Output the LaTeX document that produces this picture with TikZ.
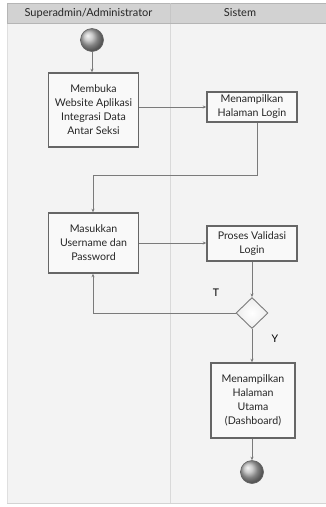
\documentclass[tikz,border=0pt]{standalone}
\usepackage{fontspec}
\setmainfont{Lato}
\usetikzlibrary{shapes.geometric,arrows.meta,shadows}
\definecolor{lane}{HTML}{F3F3F3}
\definecolor{headfill}{HTML}{D2D2D2}
\definecolor{headline}{HTML}{B5B5B5}
\definecolor{wire}{HTML}{7A7A7A}
\definecolor{boxline}{HTML}{666666}
\definecolor{boxfill}{HTML}{F9F9F9}
\tikzset{
  actbox/.style={draw=boxline, line width=1.4pt, fill=boxfill, align=center,
    font=\fontsize{10.6}{14}\selectfont, inner sep=1pt, text=black!85,
    drop shadow={shadow xshift=0.6pt, shadow yshift=-0.6pt, opacity=0.25}},
  decide/.style={diamond, draw=wire, line width=0.9pt, inner sep=0pt,
    minimum width=32pt, minimum height=31pt, shading=radial,
    inner color=white, outer color=boxfill!90!gray},
  endpoint/.style={circle, draw=wire!80!black, line width=0.6pt, inner sep=0pt,
    minimum size=23pt, ball color=gray!55},
  flow/.style={draw=wire, line width=0.9pt, -{Stealth[length=3.5pt,width=3pt]}},
  lanehead/.style={font=\fontsize{11}{13}\selectfont, text=black!85},
  guard/.style={font=\fontsize{10.5}{12}\selectfont}
}
\begin{document}
\begin{tikzpicture}[x=1pt,y=-1pt]
\useasboundingbox (0,0) rectangle (326,507);
\fill[white] (0,0) rectangle (326,507);
% swimlanes
\fill[lane] (7,23) rectangle (326,503);
\draw[headline!60, line width=0.8pt] (7,503) -- (326,503);
\draw[gray!25, line width=0.8pt] (7,23) -- (7,503);
\draw[gray!30, line width=0.7pt] (170,23) -- (170,503);
\fill[headfill] (7,3) rectangle (326,23);
\draw[headline, line width=0.8pt] (7,3) -- (326,3) (7,23) -- (326,23) (7,3) -- (7,23);
\draw[gray!45, line width=0.8pt] (170,3) -- (170,23);
\node[lanehead] (laneA) at (88.5,13) {Superadmin/Administrator};
\node[lanehead] (laneB) at (240,13) {Sistem};
% activity nodes
\node[endpoint] (start) at (92,40) {};
\node[actbox, minimum width=90pt, minimum height=74pt] (open) at (93.5,110) {Membuka\\Website Aplikasi\\Integrasi Data\\Antar Seksi};
\node[actbox, minimum width=90pt, minimum height=30pt] (login) at (252,107) {Menampilkan\\Halaman Login};
\node[actbox, minimum width=90pt, minimum height=60pt] (input) at (93.5,243) {Masukkan\\Username dan\\Password};
\node[actbox, minimum width=90pt, minimum height=35pt] (valid) at (252,243.5) {Proses Validasi\\Login};
\node[decide] (check) at (252,313) {};
\node[actbox, minimum width=84pt, minimum height=75pt] (home) at (253,400.5) {Menampilkan\\Halaman\\Utama\\(Dashboard)};
\node[endpoint] (stop) at (252,472) {};
% guards
\node[guard] (gT) at (216,293) {T};
\node[guard] (gY) at (275,339) {Y};
% connectors
\draw[flow] (start) -- (open.north -| start);
\draw[flow] (open.east |- login) -- (login.west);
\coordinate (bendA) at (257,175);
\coordinate (bendB) at (93,175);
\draw[flow] (login.south -| bendA) -- (bendA) -- (bendB) -- (input.north -| bendB);
\draw[flow] (input.east) -- (valid.west |- input.east);
\draw[flow] (valid.south -| check) -- (check.north);
\coordinate (bendC) at (93,313);
\draw[flow] (check.west) -- (bendC) -- (input.south -| bendC);
\draw[flow] (check.south) -- (home.north -| check);
\draw[flow] (home.south -| stop) -- (stop.north);
\end{tikzpicture}
\end{document}
